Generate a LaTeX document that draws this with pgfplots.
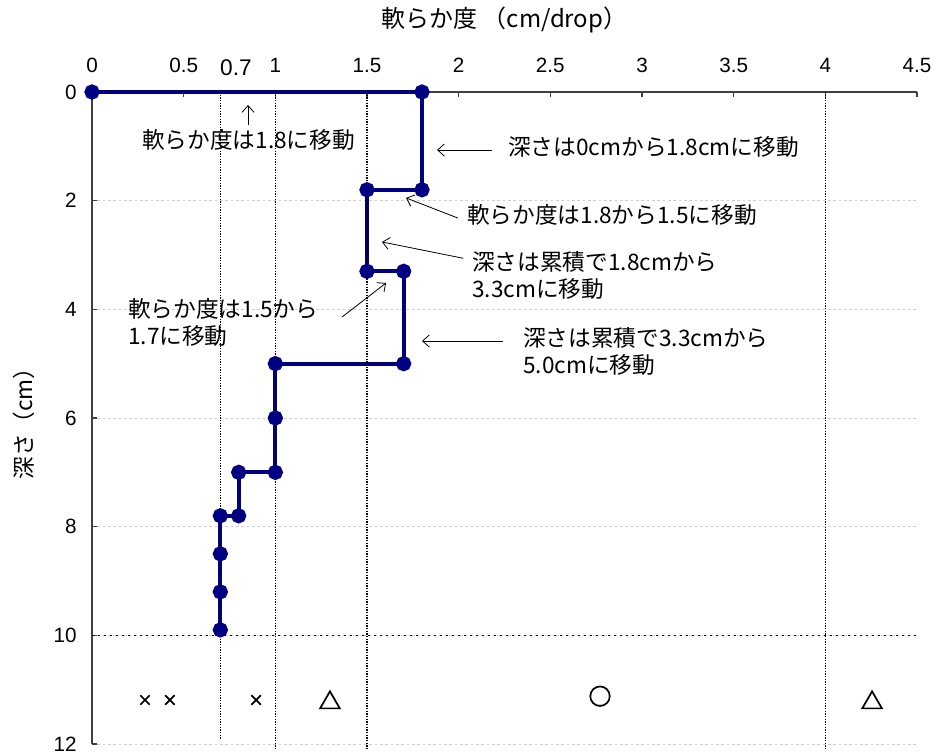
\documentclass[border=0pt]{standalone}
\usepackage{fontspec}
\setmainfont{Liberation Sans}
\newfontfamily\jp{Noto Sans CJK JP}
\usepackage{pgfplots}
\pgfplotsset{compat=1.18}
\usetikzlibrary{arrows.meta}
\definecolor{navyline}{RGB}{0,0,128}
\newcommand\ann{\jp\fontsize{17}{20.5}\selectfont}

\begin{document}
\begin{tikzpicture}
\begin{axis}[
  name=ax,
  scale only axis, width=618.75pt, height=489pt,
  xmin=0, xmax=4.5, ymin=0, ymax=12, y dir=reverse,
  xtick={0,0.5,1,1.5,2,2.5,3,3.5,4,4.5},
  ytick={0,2,4,6,8,10,12},
  axis x line=top, axis y line=left,
  every outer x axis line/.append style={-},
  every outer y axis line/.append style={-},
  axis line style={-, black!75, line width=0.8pt},
  tick style={black!75, line width=0.8pt},
  tick align=inside, major tick length=4pt,
  ticklabel style={font=\fontsize{15.5}{18}\selectfont},
  /pgf/number format/assume math mode=true,
  xticklabel style={yshift=11pt},
  yticklabel style={xshift=-8pt},
  ymajorgrids,
  grid style={black!20, dash pattern=on 2pt off 2pt, line width=0.5pt},
  xlabel={\jp 軟らか度 （cm/drop）},
  xlabel style={at={(axis description cs:0.5,1.110)}, anchor=center,
    font=\jp\fontsize{18}{22}\selectfont},
  ylabel={\jp 深さ（cm）},
  ylabel style={at={(axis description cs:-0.0824,0.5)}, anchor=center,
    font=\jp\fontsize{17}{21}\selectfont},
  clip=false,
]
% soil profile
\addplot[navyline, line width=3pt, mark=*, mark size=4.2pt,
  mark options={fill=navyline, draw=navyline}]
  coordinates {(0,0) (1.8,0) (1.8,1.8) (1.5,1.8) (1.5,3.3) (1.7,3.3)
    (1.7,5.0) (1.0,5.0) (1.0,6.0) (1.0,7.0) (0.8,7.0) (0.8,7.8)
    (0.7,7.8) (0.7,8.5) (0.7,9.2) (0.7,9.9)};

% reference lines
\addplot[black, line width=0.8pt, dash pattern=on 1pt off 1pt] coordinates {(0.7,0) (0.7,11.9)};
\addplot[black, line width=0.8pt, dash pattern=on 1pt off 1pt] coordinates {(1,0) (1,12.1)};
\addplot[black, line width=0.8pt, dash pattern=on 1pt off 1pt] coordinates {(1.5,0) (1.5,12.1)};
\addplot[black, line width=0.8pt, dash pattern=on 1pt off 1pt] coordinates {(4,0) (4,12.1)};
\addplot[black, line width=0.8pt, dash pattern=on 1.5pt off 3pt] coordinates {(0,10) (4.5,10)};

% judgement marks
\addplot[only marks, black, mark=x, mark size=5pt, line width=1.3pt]
  coordinates {(0.289,11.19) (0.425,11.19) (0.895,11.19)};
\addplot[only marks, black, mark=triangle, mark size=8.5pt, line width=1.3pt]
  coordinates {(1.298,11.24) (4.255,11.24)};
\addplot[only marks, black, mark=o, mark size=7.3pt, line width=1.3pt]
  coordinates {(2.771,11.12)};

% notes
\node[font=\fontsize{17}{20}\selectfont] at (axis cs:0.785,-0.44) {0.7};
\node[font=\ann] at (axis cs:0.854,0.883) {軟らか度は1.8に移動};
\draw[-{Straight Barb[length=5pt,width=9pt]}, line width=0.6pt] (axis cs:0.851,0.61) -- (axis cs:0.851,0.24);

\node[font=\ann, anchor=west, inner sep=0pt] at (axis cs:2.269,1.012) {深さは0cmから1.8cmに移動};
\draw[-{Straight Barb[length=5pt,width=9pt]}, line width=0.6pt] (axis cs:2.182,1.068) -- (axis cs:1.882,1.068);

\node[font=\ann, anchor=west, inner sep=0pt] at (axis cs:2.045,2.264) {軟らか度は1.8から1.5に移動};
\draw[-{Straight Barb[length=5pt,width=9pt]}, line width=0.6pt] (axis cs:1.996,2.32) -- (axis cs:1.713,1.95);

\node[font=\ann, anchor=west, inner sep=0pt, align=left] at (axis cs:2.073,3.377) {深さは累積で1.8cmから\\3.3cmに移動};
\draw[-{Straight Barb[length=5pt,width=9pt]}, line width=0.6pt] (axis cs:2.024,3.06) -- (axis cs:1.582,2.76);

\node[font=\ann, anchor=west, inner sep=0pt, align=left] at (axis cs:0.196,4.243) {軟らか度は1.5から\\1.7に移動};
\draw[-{Straight Barb[length=5pt,width=9pt]}, line width=0.6pt] (axis cs:1.364,4.141) -- (axis cs:1.604,3.515);

\node[font=\ann, anchor=west, inner sep=0pt, align=left] at (axis cs:2.351,4.776) {深さは累積で3.3cmから\\5.0cmに移動};
\draw[-{Straight Barb[length=5pt,width=9pt]}, line width=0.6pt] (axis cs:2.242,4.583) -- (axis cs:1.800,4.583);

\coordinate (BL) at (axis description cs:0,0);
\coordinate (TR) at (axis description cs:1,1);
\end{axis}
\pgfresetboundingbox
\path[use as bounding box] ([shift={(-69pt,-6.75pt)}]BL) rectangle ([shift={(14.25pt,69pt)}]TR);
\end{tikzpicture}
\end{document}
